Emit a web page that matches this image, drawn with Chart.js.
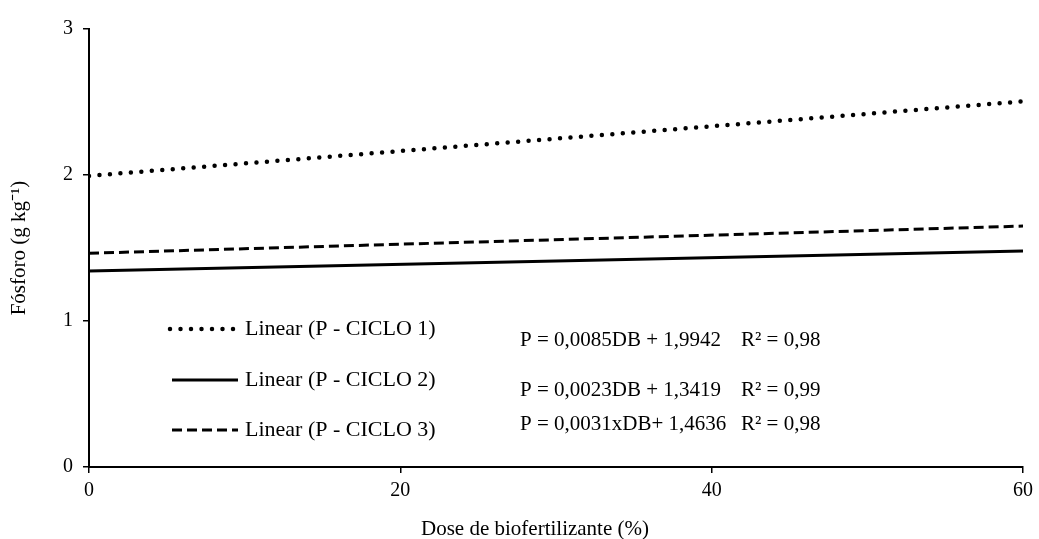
<!DOCTYPE html>
<html>
<head>
<meta charset="utf-8">
<script src="https://cdn.jsdelivr.net/npm/chart.js@4"></script>
<style>
  html, body { margin: 0; padding: 0; background: #fff; }
  #wrap { width: 1039px; height: 539px; }
</style>
</head>
<body>
<div id="wrap"><canvas id="chart"></canvas></div>
<script>
// dose (%) at the ends of each fitted line
const doses = [0, 60];
const ciclo1 = [1.994, 2.504];
const ciclo2 = [1.342, 1.480];
const ciclo3 = [1.464, 1.650];
const seriesNames = ['Linear (P - CICLO 1)', 'Linear (P - CICLO 2)', 'Linear (P - CICLO 3)'];
const equations = [
  'P = 0,0085DB + 1,9942',
  'P = 0,0023DB + 1,3419',
  'P = 0,0031xDB+ 1,4636'
];
const r2Labels = ['R² = 0,98', 'R² = 0,99', 'R² = 0,98'];
const xTicks = [0, 20, 40, 60];
const yTicks = [0, 1, 2, 3];
const xTitle = 'Dose de biofertilizante (%)';
const yTitle = 'Fósforo (g kg⁻¹)';

const FONT = '"Liberation Serif", "Times New Roman", serif';

function toPoints(vals) {
  return doses.map((d, i) => ({ x: d, y: vals[i] }));
}

// legend, equations and x title drawn on top of the chart
const legendPlugin = {
  id: 'trendLegend',
  afterDraw(chart) {
    const ctx = chart.ctx;
    const rows = [
      { y: 329, ey: 340 },
      { y: 380, ey: 390 },
      { y: 430, ey: 424 }
    ];
    ctx.save();
    chart.data.datasets.forEach((ds, i) => {
      const r = rows[i];
      ctx.beginPath();
      ctx.strokeStyle = '#000';
      ctx.lineWidth = ds.borderWidth;
      ctx.lineCap = ds.borderCapStyle || 'butt';
      ctx.setLineDash(ds.borderDash || []);
      ctx.moveTo(i === 0 ? 170 : 172, r.y);
      ctx.lineTo(238, r.y);
      ctx.stroke();
      ctx.setLineDash([]);
      ctx.fillStyle = '#000';
      ctx.textBaseline = 'middle';
      ctx.textAlign = 'left';
      ctx.font = '22px ' + FONT;
      ctx.fillText(seriesNames[i], 245, r.y);
      ctx.font = '21px ' + FONT;
      ctx.fillText(equations[i], 520, r.ey);
      ctx.fillText(r2Labels[i], 741, r.ey);
    });
    ctx.font = '21px ' + FONT;
    ctx.textAlign = 'center';
    ctx.fillText(xTitle, 535, 529);
    ctx.restore();
  }
};

new Chart(document.getElementById('chart'), {
  type: 'scatter',
  data: {
    datasets: [
      {
        label: seriesNames[0],
        data: toPoints(ciclo1),
        showLine: true,
        borderColor: '#000',
        borderWidth: 4.5,
        borderDash: [0, 10.5],
        borderCapStyle: 'round',
        pointRadius: 0
      },
      {
        label: seriesNames[1],
        data: toPoints(ciclo2),
        showLine: true,
        borderColor: '#000',
        borderWidth: 3,
        pointRadius: 0
      },
      {
        label: seriesNames[2],
        data: toPoints(ciclo3),
        showLine: true,
        borderColor: '#000',
        borderWidth: 3,
        borderDash: [10, 5],
        pointRadius: 0
      }
    ]
  },
  options: {
    responsive: true,
    maintainAspectRatio: false,
    animation: false,
    layout: { padding: { top: 29, right: 12, left: 0, bottom: 0 } },
    plugins: {
      legend: { display: false },
      tooltip: { enabled: false }
    },
    scales: {
      x: {
        type: 'linear',
        min: 0,
        max: 60,
        afterBuildTicks: s => { s.ticks = xTicks.map(v => ({ value: v })); },
        afterFit: s => { s.height = 72; },
        border: { color: '#000', width: 2 },
        grid: { drawOnChartArea: false, color: '#000', tickLength: 6, lineWidth: 1.5 },
        ticks: { color: '#000', padding: 6, font: { family: FONT, size: 20 } },
        title: { display: false }
      },
      y: {
        min: 0,
        max: 3,
        afterBuildTicks: s => { s.ticks = yTicks.map(v => ({ value: v })); },
        afterFit: s => { s.width = 89; },
        border: { color: '#000', width: 2 },
        grid: { drawOnChartArea: false, color: '#000', tickLength: 6, lineWidth: 1.5 },
        ticks: { color: '#000', padding: 10, font: { family: FONT, size: 20 } },
        title: {
          display: true,
          text: yTitle,
          color: '#000',
          font: { family: FONT, size: 21 },
          padding: { top: 7, bottom: 0 }
        }
      }
    }
  },
  plugins: [legendPlugin]
});
</script>
</body>
</html>
